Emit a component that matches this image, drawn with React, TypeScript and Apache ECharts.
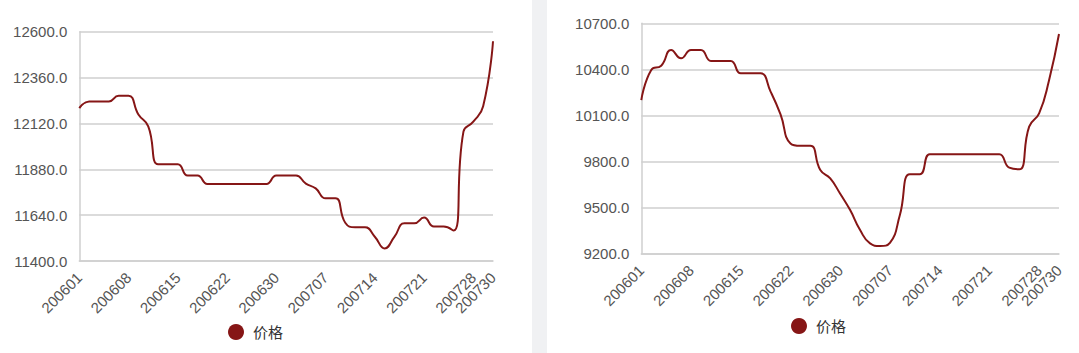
import React, { useEffect, useRef } from "react";
import * as echarts from "echarts";

const categories = [
  "200601", "200602", "200603", "200604", "200605",
  "200608", "200609", "200610", "200611", "200612",
  "200615", "200616", "200617", "200618", "200619",
  "200622", "200623", "200624", "200628", "200629", "200630",
  "200701", "200702", "200703", "200706", "200707",
  "200708", "200709", "200710", "200713", "200714",
  "200715", "200716", "200717", "200720", "200721",
  "200722", "200723", "200724", "200727", "200728",
  "200729", "200730",
];

const leftPrices = [
  12200, 12235, 12235, 12235, 12265, 12265, 12167, 12105, 11906, 11906,
  11906, 11847, 11847, 11803, 11803, 11803, 11803, 11803, 11803, 11803,
  11847, 11847, 11847, 11805, 11780, 11728, 11728, 11600, 11576, 11576,
  11527, 11466, 11527, 11597, 11597, 11627, 11580, 11580, 11559, 12077,
  12129, 12210, 12550,
];

const rightPrices = [
  10200, 10396, 10424, 10526, 10472, 10526, 10526, 10455, 10455, 10455,
  10374, 10374, 10374, 10255, 10107, 9918, 9903, 9903, 9745, 9690,
  9590, 9484, 9354, 9267, 9250, 9271, 9452, 9717, 9717, 9847,
  9847, 9847, 9847, 9847, 9847, 9847, 9847, 9760, 9749, 10027,
  10114, 10330, 10630,
];

const seriesName = "价格";
const leftTicks = { min: 11400, max: 12600, interval: 240 };
const rightTicks = { min: 9200, max: 10700, interval: 300 };
const LABEL_STEP = 5;

const FONT = "'Liberation Sans', 'Noto Sans CJK SC', sans-serif";
const LINE_COLOR = "#861616";
const AXIS_GRAY = "#cfcfcf";

export default function App() {
  const ref = useRef<HTMLDivElement>(null);

  useEffect(() => {
    if (!ref.current) return;
    const chart = echarts.init(ref.current, undefined, { renderer: "svg" });

    const lastIndex = categories.length - 1;

    const xAxisCommon = (gridIndex: number) => ({
      type: "category" as const,
      gridIndex,
      data: categories,
      boundaryGap: false,
      axisLine: { show: true, lineStyle: { color: AXIS_GRAY, width: 1.5 } },
      axisTick: { show: false },
      axisLabel: {
        rotate: 45,
        interval: 0,
        fontSize: 15,
        color: "#555",
        fontFamily: FONT,
        margin: 14,
        formatter: (value: string, index: number) =>
          index % LABEL_STEP === 0 || index === lastIndex ? value : "",
      },
    });

    const yAxisCommon = (gridIndex: number, t: { min: number; max: number; interval: number }) => ({
      type: "value" as const,
      gridIndex,
      min: t.min,
      max: t.max,
      interval: t.interval,
      axisLine: { show: true, lineStyle: { color: AXIS_GRAY, width: 1.5 } },
      axisTick: { show: false },
      splitLine: { show: true, lineStyle: { color: AXIS_GRAY, width: 1.5 } },
      axisLabel: {
        fontSize: 15,
        color: "#555",
        fontFamily: FONT,
        margin: 12,
        formatter: (v: number) => v.toFixed(1),
      },
    });

    const legendCommon = {
      data: [seriesName],
      icon: "circle",
      itemWidth: 24,
      itemHeight: 16,
      selectedMode: false,
      textStyle: { fontSize: 15, color: "#333", fontFamily: FONT },
    };

    chart.setOption({
      animation: false,
      backgroundColor: "#ffffff",
      graphic: [
        {
          type: "rect",
          shape: { x: 532, y: 0, width: 15, height: 353 },
          style: { fill: "#f0f1f3" },
          silent: true,
        },
      ],
      legend: [
        { ...legendCommon, left: 223, top: 319 },
        { ...legendCommon, left: 786, top: 313 },
      ],
      grid: [
        { left: 79.3, top: 31.7, width: 413.7, height: 229.3 },
        { left: 641.3, top: 23.3, width: 417.7, height: 230.4 },
      ],
      xAxis: [xAxisCommon(0), xAxisCommon(1)],
      yAxis: [yAxisCommon(0, leftTicks), yAxisCommon(1, rightTicks)],
      series: [
        {
          name: seriesName,
          type: "line",
          xAxisIndex: 0,
          yAxisIndex: 0,
          data: leftPrices,
          smooth: true,
          showSymbol: false,
          itemStyle: { color: LINE_COLOR },
          lineStyle: { color: LINE_COLOR, width: 2 },
        },
        {
          name: seriesName,
          type: "line",
          xAxisIndex: 1,
          yAxisIndex: 1,
          data: rightPrices,
          smooth: true,
          showSymbol: false,
          itemStyle: { color: LINE_COLOR },
          lineStyle: { color: LINE_COLOR, width: 2 },
        },
      ],
    });

    return () => chart.dispose();
  }, []);

  return (
    <div
      ref={ref}
      style={{ position: "fixed", left: 0, top: 0, width: 1079, height: 353 }}
    />
  );
}
